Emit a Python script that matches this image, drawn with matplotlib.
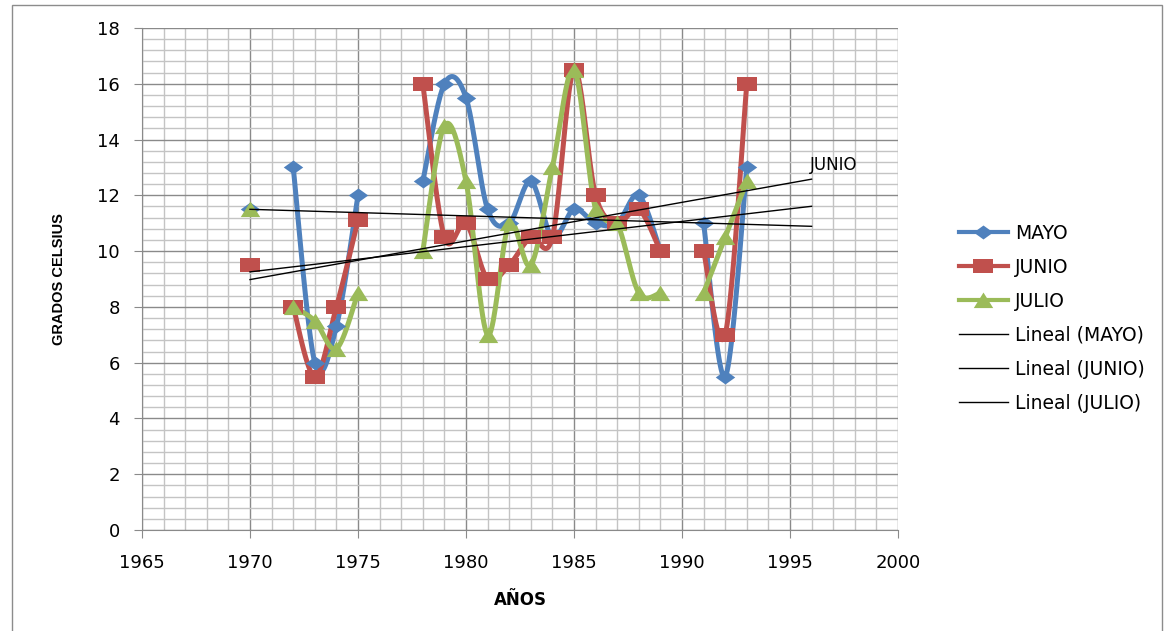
import numpy as np
import matplotlib
matplotlib.use("Agg")
import matplotlib.pyplot as plt
from matplotlib.lines import Line2D
from matplotlib.patches import Rectangle
from matplotlib.ticker import MultipleLocator

plt.rcParams["font.family"] = ["DejaVu Sans"]

# monthly mean temperatures per year (gaps where no record)
years = [1970, 1972, 1973, 1974, 1975, 1978, 1979, 1980, 1981, 1982,
         1983, 1984, 1985, 1986, 1987, 1988, 1989, 1991, 1992, 1993]
mayo = [11.5, 13, 6, 7.3, 12, 12.5, 16, 15.5, 11.5, 11,
        12.5, 10.5, 11.5, 11, 11, 12, 10, 11, 5.5, 13]
junio = [9.5, 8, 5.5, 8, 11.1, 16, 10.5, 11, 9, 9.5,
         10.5, 10.5, 16.5, 12, 11, 11.5, 10, 10, 7, 16]
julio = [11.5, 8, 7.5, 6.5, 8.5, 10, 14.5, 12.5, 7, 11,
         9.5, 13, 16.5, 11.5, 11, 8.5, 8.5, 8.5, 10.5, 12.5]

BLUE = "#4F81BD"
RED = "#C0504D"
GREEN = "#9BBB59"
TREND_END = 1996

# wide markers (the sheet is drawn stretched sideways)
DIAMOND = [(-1, 0), (0, 0.72), (1, 0), (0, -0.72), (-1, 0)]
SQUARE = [(-1, -0.72), (1, -0.72), (1, 0.72), (-1, 0.72), (-1, -0.72)]
TRIANGLE = [(-1, -0.78), (1, -0.78), (0, 0.82), (-1, -0.78)]


def runs(x):
    """Split consecutive-year runs (a missing year breaks the line)."""
    out, cur = [], [0]
    for i in range(1, len(x)):
        if x[i] - x[i - 1] == 1:
            cur.append(i)
        else:
            out.append(cur)
            cur = [i]
    out.append(cur)
    return out


def smooth(px, py, n=24):
    """Catmull-Rom style bezier through the points."""
    px, py = np.asarray(px, float), np.asarray(py, float)
    if len(px) < 3:
        return px, py
    P = np.column_stack([px, py])
    Q = np.vstack([P[0], P, P[-1]])
    xs, ys = [], []
    t = np.linspace(0, 1, n)[:, None]
    for i in range(len(P) - 1):
        p0, p1, p2, p3 = Q[i], Q[i + 1], Q[i + 2], Q[i + 3]
        c1 = p1 + (p2 - p0) / 6.0
        c2 = p2 - (p3 - p1) / 6.0
        b = ((1 - t) ** 3) * p1 + 3 * ((1 - t) ** 2) * t * c1 \
            + 3 * (1 - t) * t ** 2 * c2 + t ** 3 * p2
        xs.append(b[:, 0])
        ys.append(b[:, 1])
    return np.concatenate(xs), np.concatenate(ys)


fig = plt.figure(figsize=(11.65, 6.31), dpi=100)
ax = fig.add_axes([142 / 1165, 1 - 530 / 631, (898 - 142) / 1165, (530 - 28) / 631])

fig.patches.append(Rectangle((12 / 1165, -0.01), 1150 / 1165, 1 - 5 / 631 + 0.01,
                             transform=fig.transFigure, fill=False,
                             edgecolor="#8c8c8c", linewidth=1.0))

series = [
    ("MAYO", mayo, BLUE, DIAMOND, 14),
    ("JUNIO", junio, RED, SQUARE, 14),
    ("JULIO", julio, GREEN, TRIANGLE, 14),
]

for name, vals, color, mk, ms in series:
    for idx in runs(years):
        sx = [years[i] for i in idx]
        sy = [vals[i] for i in idx]
        cx, cy = smooth(sx, sy)
        ax.plot(cx, cy, color=color, linewidth=3.6, solid_capstyle="round", zorder=3)
        ax.plot(sx, sy, linestyle="none", marker=mk, markersize=ms,
                color=color, markeredgewidth=0, zorder=4)

# linear trendlines, forecast forward to 1996
trend_ends = {}
for name, vals, color, mk, ms in series:
    k, b = np.polyfit(years, vals, 1)
    tx = np.array([years[0], TREND_END])
    ax.plot(tx, k * tx + b, color="black", linewidth=1.0, zorder=5)
    trend_ends[name] = k * TREND_END + b

ax.text(TREND_END - 0.1, trend_ends["JUNIO"] + 0.2, "JUNIO", fontsize=12,
        ha="left", va="bottom", color="black", zorder=6)

ax.set_xlim(1965, 2000)
ax.set_ylim(0, 18)
ax.xaxis.set_major_locator(MultipleLocator(5))
ax.xaxis.set_minor_locator(MultipleLocator(1))
ax.yaxis.set_major_locator(MultipleLocator(2))
ax.yaxis.set_minor_locator(MultipleLocator(0.4))
ax.grid(which="major", color="#8a8a8a", linewidth=1.0)
ax.grid(which="minor", color="#c4c4c4", linewidth=1.0)
ax.set_axisbelow(True)
for side in ("top", "right"):
    ax.spines[side].set_visible(False)
for side in ("left", "bottom"):
    ax.spines[side].set_color("#8a8a8a")
ax.tick_params(which="major", length=6, color="#8a8a8a", labelsize=13)
ax.tick_params(axis="x", which="major", pad=11)
ax.tick_params(axis="y", which="major", pad=10)
ax.tick_params(which="minor", length=0)

ax.set_xlabel("AÑOS", fontsize=12, fontweight="bold", labelpad=14)
ax.set_ylabel("GRADOS CELSIUS", fontsize=10.5, fontweight="bold", labelpad=22,
              family=["Liberation Sans", "DejaVu Sans"])

handles = [Line2D([], [], color=c, linewidth=3, marker=m, markersize=ms, markeredgewidth=0)
           for _, _, c, m, ms in series]
handles += [Line2D([], [], color="black", linewidth=1.0) for _ in range(3)]
labels = [s[0] for s in series] + ["Lineal (MAYO)", "Lineal (JUNIO)", "Lineal (JULIO)"]
fig.legend(handles, labels, loc="upper left", bbox_to_anchor=(942 / 1165, 1 - 207 / 631),
           frameon=False, fontsize=13.5, handlelength=2.6, labelspacing=0.8,
           handletextpad=0.4)

fig.savefig("out.png", dpi=100)
